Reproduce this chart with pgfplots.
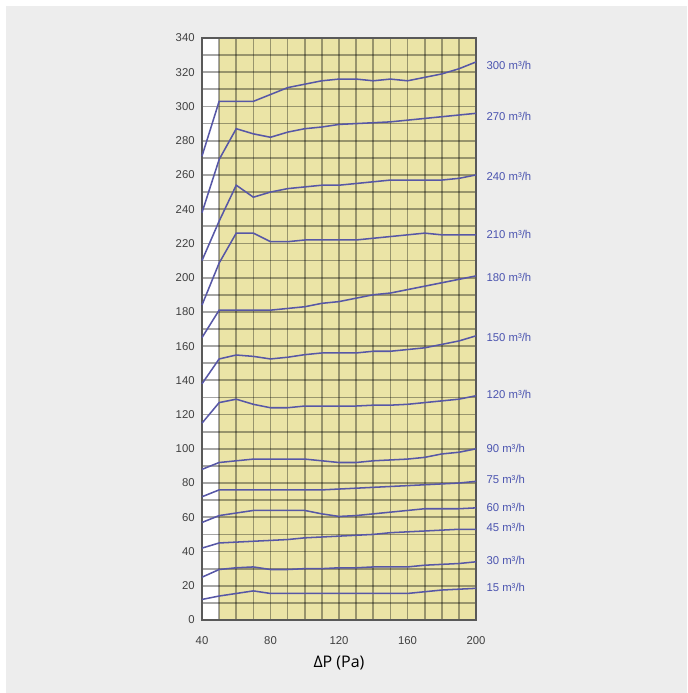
\documentclass[border=0pt]{standalone}
\usepackage{fontspec}
\setmainfont{Liberation Sans}
\newfontfamily\labfont{Open Sans}
\usepackage{pgfplots}
\usepackage{pgfplotstable}
\pgfplotsset{compat=1.18}
\definecolor{bggray}{HTML}{EDEDED}
\definecolor{plotyellow}{HTML}{EBE4A6}
\definecolor{curveblue}{HTML}{5757A6}
\definecolor{labblue}{HTML}{4C55B0}
\definecolor{tickgray}{HTML}{404040}
\pgfplotstableread{
x   c15  c30  c45  c60  c75  c90  c120 c150 c180 c210 c240 c270 c300
40  12   25   42   57   72   88   115  138  165  184  210  238  271
50  14   29.5 45   61   76   92   127  152.5 181 208.5 233 269  303
60  15.5 30.5 45.5 62.5 76   93   129  154.8 181 226  254  287  303
70  17   31   46   64   76   94   126  154  181  226  247  284  303
80  15.5 29.5 46.5 64   76   94   124  152.5 181 221  250  282  307
90  15.5 29.5 47   64   76   94   124  153.5 182 221 252  285  311
100 15.5 30   48   64   76   94   125  155  183  222  253  287  313
110 15.5 30   48.5 62   76   93   125  156  185  222  254  288  315
120 15.5 30.5 49   60.5 76.5 92   125  156  186  222  254  289.5 316
130 15.5 30.5 49.5 61   77   92   125  156  188  222  255  290  316
140 15.5 31   50   62   77.5 93   125.5 157 190  223  256  290.5 315
150 15.5 31   51   63   78   93.5 125.5 157 191 224  257  291  316
160 15.5 31   51.5 64   78.5 94   126  158  193  225  257  292  315
170 16.5 32   52   65   79   95   127  159  195  226  257  293  317
180 17.5 32.5 52.5 65  79.5 97   128  161  197  225  257  294  319
190 18   33   53   65   80   98   129  163  199  225  258  295  322
200 18.5 34   53   65.5 81   100  131  166  201  225  260  296  326
}\datatable
\begin{document}
\begin{tikzpicture}
\begin{axis}[
  set layers,
  at={(151.5pt,54.75pt)}, anchor=south west,
  scale only axis, width=205.5pt, height=436.5pt,
  xmin=40, xmax=200, ymin=0, ymax=340,
  xtick={40,80,120,160,200}, ytick={0,20,...,340},
  minor xtick={50,60,70,90,100,110,130,140,150,170,180,190},
  minor ytick={10,30,...,330},
  grid=both,
  grid style={draw=black, opacity=0.35, line width=1.3pt},
  major grid style={draw=black, opacity=0.35, line width=1.3pt},
  minor grid style={draw=black, opacity=0.35, line width=1.3pt},
  major tick length=0pt, minor tick length=0pt,
  axis line style={draw=black!65, line width=1.3pt},
  tick label style={font=\fontsize{8.5}{10}\selectfont, text=tickgray},
  /pgf/number format/assume math mode=true,
  xticklabel style={yshift=-9pt},
  yticklabel style={xshift=-2pt},
  xlabel={\labfont ΔP (Pa)},
  xlabel style={font=\fontsize{12}{14}\selectfont, text=black, yshift=-2pt},
  clip=false,
  crv/.style={draw=curveblue, line width=1.15pt, mark=none},
]
\begin{pgfonlayer}{axis background}
\fill[white] (rel axis cs:-0.73723,-0.12543) rectangle (rel axis cs:1.77007,1.06529);
\fill[bggray] (rel axis cs:-0.71533,-0.12543) rectangle (rel axis cs:1.77007,1.05498);
\fill[white] (axis cs:40,0) rectangle (axis cs:50,340);
\fill[plotyellow] (axis cs:50,0) rectangle (axis cs:200,340);
\end{pgfonlayer}
\addplot[crv] table[x=x,y=c15] {\datatable};
\addplot[crv] table[x=x,y=c30] {\datatable};
\addplot[crv] table[x=x,y=c45] {\datatable};
\addplot[crv] table[x=x,y=c60] {\datatable};
\addplot[crv] table[x=x,y=c75] {\datatable};
\addplot[crv] table[x=x,y=c90] {\datatable};
\addplot[crv] table[x=x,y=c120] {\datatable};
\addplot[crv] table[x=x,y=c150] {\datatable};
\addplot[crv] table[x=x,y=c180] {\datatable};
\addplot[crv] table[x=x,y=c210] {\datatable};
\addplot[crv] table[x=x,y=c240] {\datatable};
\addplot[crv] table[x=x,y=c270] {\datatable};
\addplot[crv] table[x=x,y=c300] {\datatable};
\begin{scope}[every node/.style={anchor=west, text=labblue, font=\fontsize{8.5}{10}\selectfont, inner sep=0pt}]
\node at (axis cs:206,324) {300 m³/h};
\node at (axis cs:206,294) {270 m³/h};
\node at (axis cs:206,259) {240 m³/h};
\node at (axis cs:206,225) {210 m³/h};
\node at (axis cs:206,200) {180 m³/h};
\node at (axis cs:206,165) {150 m³/h};
\node at (axis cs:206,132) {120 m³/h};
\node at (axis cs:206,100) {90 m³/h};
\node at (axis cs:206,82) {75 m³/h};
\node at (axis cs:206,66) {60 m³/h};
\node at (axis cs:206,54) {45 m³/h};
\node at (axis cs:206,35) {30 m³/h};
\node at (axis cs:206,19) {15 m³/h};
\end{scope}
\end{axis}
\end{tikzpicture}
\end{document}
